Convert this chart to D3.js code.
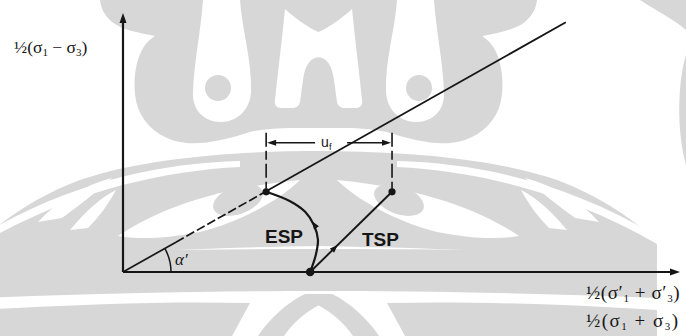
<!DOCTYPE html>
<html>
<head>
<meta charset="utf-8">
<script src="https://cdn.jsdelivr.net/npm/d3@7"></script>
<style>
  html, body { margin: 0; padding: 0; background: #fff; }
  svg { display: block; }
</style>
</head>
<body>
<svg id="chart" width="686" height="336"></svg>
<script>
// Stress path in p–q space: p = ½(σ1+σ3), q = ½(σ1−σ3)
const kfSlope = 0.564;                 // tan α'
const kfRange = [0, 7.95];             // p extent of the Kf line
const espPoints = [[3.36, 0], [3.46, 0.30], [3.50, 0.58], [3.43, 0.84], [3.27, 1.08], [3.00, 1.27], [2.57, 1.44]];
const tspPoints = [[3.36, 0], [4.83, 1.44]];
const failurePoints = [[2.57, 1.44], [4.83, 1.44]];
const startPoint = [3.36, 0];
const ufLevel = 2.32;                  // q at which u_f is dimensioned
const extensionTop = 2.5;              // top of the dimension extension lines
const pMax = 10, qMax = 4.65;

const labels = { esp: "ESP", tsp: "TSP", alpha: "α′" };

const svg = d3.select("#chart");
const x = d3.scaleLinear().domain([0, pMax]).range([123, 680]);
const y = d3.scaleLinear().domain([0, qMax]).range([272, 13]);
const ink = "#161616";

// ---- faint emblem in the background (left half, mirrored) ----
const shade = "#d7d7d7";
const halfShapes = [
  // crown
  "M100,0 L321,0 L321,128 C300,128 270,127 250,132 C225,140 200,146 180,142 C160,138 145,126 138,108 C132,90 134,65 142,50 C146,42 152,38 155,36 C140,33 122,30 112,22 C104,15 101,8 100,0 Z",
  // wing
  "M321,151 C250,151 150,156 80,180 C40,195 10,215 -20,240 L-20,262 C60,255 180,248 321,246 Z",
  // band along the axis
  "M-20,254 C100,250 220,249 321,249 L321,291 C220,291 100,293 -20,298 Z",
  // lower band and fang
  "M-20,310 C80,304 170,301 250,303 L232,336 L-20,336 Z",
  "M258,336 C270,318 288,302 305,294 L321,294 L321,304 C305,312 292,324 284,336 Z"
];
const halfHoles = [
  "M203,0 L240,0 C242,30 252,60 251,92 C250,110 237,122 221,122 C204,122 192,110 193,92 C194,62 201,30 203,0 Z",
  "M285,9 C295,18 308,28 321,33 L321,57 C310,57 305,65 303,80 L300,102 C299,106 296,108 292,108 L281,108 C277,108 274,105 275,100 C278,70 282,40 285,9 Z",
  "M240,161 C160,163 70,182 -20,236 L-20,244 C70,192 160,171 240,167 Z",
  "M118,236 C150,215 200,190 300,180 C280,200 240,222 200,232 C170,238 140,240 118,236 Z",
  "M38,222 C58,200 85,185 112,178 C96,192 80,205 62,218 Z",
  "M70,230 C85,212 100,198 116,190 C108,205 98,218 88,228 Z"
];
const sides = ["", "translate(637,0) scale(-1,1)"];
const bg = svg.append("g");
const layer = () => sides.map(tf => bg.append("g").attr("transform", tf));
layer().forEach(g => g.selectAll("path").data(halfShapes).join("path").attr("d", d => d).attr("fill", shade));
layer().forEach(g => g.selectAll("path").data(halfHoles).join("path").attr("d", d => d).attr("fill", "#fff"));
layer().forEach(g => {
  g.append("circle").attr("cx", 218).attr("cy", 88).attr("r", 13).attr("fill", shade);
  g.append("ellipse").attr("transform", "translate(238,200) rotate(-20)").attr("rx", 26).attr("ry", 14).attr("fill", shade);
});
bg.append("path").attr("d", "M640,0 L686,0 L686,30 C675,20 655,10 640,0 Z").attr("fill", shade);
bg.append("path").attr("d", "M686,55 C678,80 676,130 686,165 Z").attr("fill", shade);

// ---- axes ----
const arrow = (tipX, tipY, dir) => {
  const L = 10, W = 3.5;
  if (dir === "up") return `M${tipX},${tipY} L${tipX - W},${tipY + L} L${tipX + W},${tipY + L} Z`;
  return `M${tipX},${tipY} L${tipX - L},${tipY - W} L${tipX - L},${tipY + W} Z`;
};
svg.append("line").attr("x1", x(0)).attr("y1", y(0)).attr("x2", x(0)).attr("y2", y(qMax) + 4)
  .attr("stroke", ink).attr("stroke-width", 2.2);
svg.append("path").attr("d", arrow(x(0), y(qMax), "up")).attr("fill", ink);
svg.append("line").attr("x1", x(0)).attr("y1", y(0)).attr("x2", x(pMax) - 4).attr("y2", y(0))
  .attr("stroke", ink).attr("stroke-width", 2);
svg.append("path").attr("d", arrow(x(pMax), y(0), "right")).attr("fill", ink);

// ---- Kf line ----
const kf = p => [p, p * kfSlope];
const lineGen = d3.line().x(d => x(d[0])).y(d => y(d[1]));
svg.append("path").attr("d", lineGen([kf(kfRange[0]), kf(0.95)]))
  .attr("stroke", ink).attr("stroke-width", 1.7).attr("fill", "none");
svg.append("path").attr("d", lineGen([kf(0.95), kf(failurePoints[0][0])]))
  .attr("stroke", ink).attr("stroke-width", 1.7).attr("fill", "none").attr("stroke-dasharray", "9,3");
svg.append("path").attr("d", lineGen([kf(failurePoints[0][0]), kf(kfRange[1])]))
  .attr("stroke", ink).attr("stroke-width", 1.8).attr("fill", "none");

// angle arc α'
const arcR = 48, alpha = Math.atan(kfSlope);
svg.append("path")
  .attr("d", `M${x(0) + arcR},${y(0)} A${arcR},${arcR} 0 0 0 ${x(0) + arcR * Math.cos(alpha)},${y(0) - arcR * Math.sin(alpha)}`)
  .attr("stroke", ink).attr("stroke-width", 1.5).attr("fill", "none");
svg.append("text").attr("x", x(0) + 52).attr("y", y(0) - 7)
  .attr("font-family", "Liberation Serif, serif").attr("font-style", "italic").attr("font-size", 17)
  .attr("fill", ink).text(labels.alpha);

// ---- stress paths ----
svg.append("path").datum(espPoints)
  .attr("d", d3.line().x(d => x(d[0])).y(d => y(d[1])).curve(d3.curveCatmullRom))
  .attr("stroke", ink).attr("stroke-width", 2.2).attr("fill", "none");
svg.append("path").attr("d", lineGen(tspPoints))
  .attr("stroke", ink).attr("stroke-width", 1.9).attr("fill", "none");

// direction markers along the paths
const dirMark = (px, py, ang) => {
  const L = 8, W = 3;
  const c = Math.cos(ang), s = Math.sin(ang);
  const bx = px - L * c, by = py - L * s;
  return `M${px},${py} L${bx - W * s},${by + W * c} L${bx + W * s},${by - W * c} Z`;
};
{
  const a = espPoints[3], b = espPoints[4];
  const ang = Math.atan2(y(b[1]) - y(a[1]), x(b[0]) - x(a[0]));
  svg.append("path").attr("d", dirMark(x(a[0]) - 2, y(a[1]) - 4, ang)).attr("fill", ink);
  const t0 = tspPoints[0], t1 = tspPoints[1];
  const angT = Math.atan2(y(t1[1]) - y(t0[1]), x(t1[0]) - x(t0[0]));
  const m = [t0[0] + (t1[0] - t0[0]) * 0.3, t0[1] + (t1[1] - t0[1]) * 0.3];
  svg.append("path").attr("d", dirMark(x(m[0]) + 3, y(m[1]) - 3, angT)).attr("fill", ink);
}

// points
svg.selectAll("circle.fail").data(failurePoints).join("circle").attr("class", "fail")
  .attr("cx", d => x(d[0])).attr("cy", d => y(d[1])).attr("r", 3.6).attr("fill", ink);
svg.append("circle").attr("cx", x(startPoint[0])).attr("cy", y(startPoint[1])).attr("r", 4.3).attr("fill", ink);

// ---- u_f dimension ----
svg.selectAll("line.ext").data(failurePoints).join("line").attr("class", "ext")
  .attr("x1", d => x(d[0])).attr("x2", d => x(d[0]))
  .attr("y1", y(extensionTop)).attr("y2", d => y(d[1]) - 3)
  .attr("stroke", ink).attr("stroke-width", 1.6).attr("stroke-dasharray", "14,4,9,4");
const xl = x(failurePoints[0][0]), xr = x(failurePoints[1][0]), yu = y(ufLevel);
const xm = (xl + xr) / 2;
svg.append("line").attr("x1", xl + 4).attr("x2", xm - 14).attr("y1", yu).attr("y2", yu)
  .attr("stroke", ink).attr("stroke-width", 1.6);
svg.append("line").attr("x1", xm + 18).attr("x2", xr - 4).attr("y1", yu).attr("y2", yu)
  .attr("stroke", ink).attr("stroke-width", 1.6);
svg.append("path").attr("d", `M${xl + 1},${yu} L${xl + 10},${yu - 3} L${xl + 10},${yu + 3} Z`).attr("fill", ink);
svg.append("path").attr("d", `M${xr - 1},${yu} L${xr - 10},${yu - 3} L${xr - 10},${yu + 3} Z`).attr("fill", ink);
const uf = svg.append("text").attr("x", xm - 8).attr("y", yu + 4)
  .attr("font-family", "Liberation Sans, sans-serif").attr("font-size", 14).attr("fill", ink);
uf.append("tspan").text("u");
uf.append("tspan").attr("font-size", 9).attr("dy", 3).text("f");

// ---- path labels ----
const pathLabel = (tx, ty, t) => svg.append("text").attr("x", tx).attr("y", ty)
  .attr("font-family", "Liberation Sans, Arial, sans-serif").attr("font-weight", "bold").attr("font-size", 19)
  .attr("fill", ink).text(t);
pathLabel(265, 243, labels.esp);
pathLabel(362, 246, labels.tsp);

// ---- axis titles ----
function stressLabel(sel, parts, primes) {
  sel.append("tspan").text("½(");
  sel.append("tspan").text("σ" + (primes ? "′" : ""));
  sel.append("tspan").attr("font-size", 11).attr("dy", 3).text(parts[0]);
  sel.append("tspan").attr("dy", -3).text(" " + parts[1] + " ");
  sel.append("tspan").text("σ" + (primes ? "′" : ""));
  sel.append("tspan").attr("font-size", 11).attr("dy", 3).text(parts[2]);
  sel.append("tspan").attr("dy", -3).text(")");
}
const serif = "Liberation Serif, 'DejaVu Serif', serif";
const titleStyle = (sel, size, spacing) => sel.attr("font-family", serif).attr("font-size", size)
  .attr("letter-spacing", spacing).attr("fill", ink);
stressLabel(titleStyle(svg.append("text").attr("x", 14).attr("y", 53), 17.5, 0), ["1", "−", "3"], false);
stressLabel(titleStyle(svg.append("text").attr("x", 586).attr("y", 299), 19, 0.6), ["1", "+", "3"], true);
stressLabel(titleStyle(svg.append("text").attr("x", 586).attr("y", 327), 19, 1.5), ["1", "+", "3"], false);
</script>
</body>
</html>
